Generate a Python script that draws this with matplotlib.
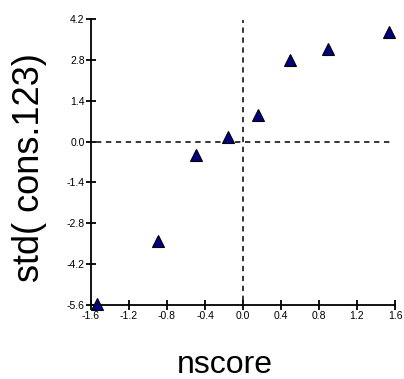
import matplotlib
matplotlib.use("Agg")
import matplotlib.pyplot as plt
import numpy as np

nscore = [-1.54, -0.895, -0.495, -0.158, 0.155, 0.495, 0.898, 1.54]
std_cons = [-5.55, -3.40, -0.46, 0.16, 0.91, 2.80, 3.16, 3.74]
xticks = [-1.6, -1.2, -0.8, -0.4, 0.0, 0.4, 0.8, 1.2, 1.6]
yticks = [-5.6, -4.2, -2.8, -1.4, 0.0, 1.4, 2.8, 4.2]

plt.rcParams['font.family'] = ['Liberation Sans', 'DejaVu Sans']

fig = plt.figure(figsize=(4.04, 3.79), dpi=100)
ax = fig.add_axes([91/404, 1-305/379, (395-91)/404, (305-19)/379])

ax.axhline(0, xmin=0.018, xmax=0.985, color='black', lw=1.1, ls=(0, (3.5, 3)), zorder=1)
ax.axvline(0, ymin=0.015, ymax=0.995, color='black', lw=1.1, ls=(0, (3.5, 3)), zorder=1)

ax.plot(nscore, std_cons, ls='none', marker='^', ms=8, mfc='#000080', mec='black', mew=0.8, zorder=3, clip_on=False)

ax.set_xlim(-1.6, 1.6)
ax.set_ylim(-5.6, 4.2)
ax.set_xticks(xticks)
ax.set_yticks(yticks)
ax.set_xticklabels([f"{t:.1f}" for t in xticks])
ax.set_yticklabels([f"{t:.1f}" for t in yticks])
for s in ['top', 'right']:
    ax.spines[s].set_visible(False)
for s in ['left', 'bottom']:
    ax.spines[s].set_linewidth(1.3)
ax.tick_params(axis='both', direction='inout', length=7, width=1.3, labelsize=7.5, pad=1)

fig.text(225/404, 1-365/379, 'nscore', fontsize=23, ha='center', va='center')
fig.text(30/404, 1-167.5/379, 'std( cons.123)', fontsize=26, ha='center', va='center', rotation=90)

fig.savefig('out.png', dpi=100)
